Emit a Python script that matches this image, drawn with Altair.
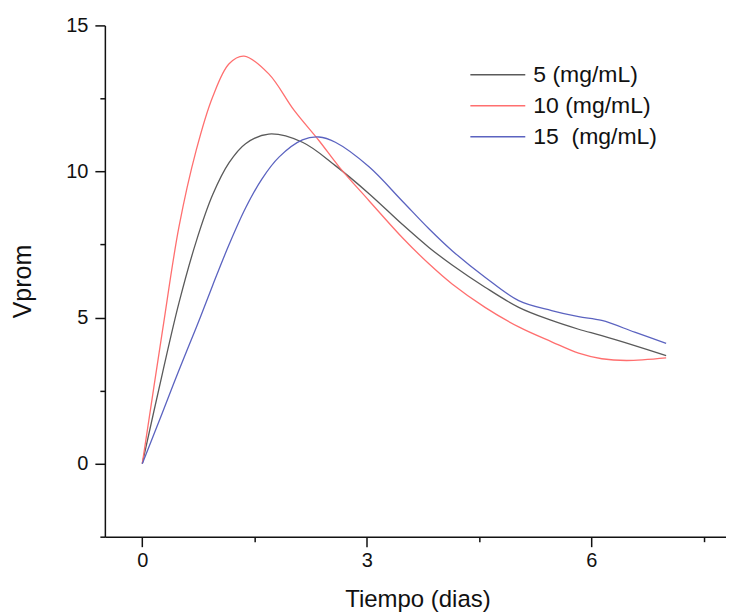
import altair as alt
import pandas as pd

# Series
t5 = [0, 0.27, 0.49, 0.72, 0.94, 1.16, 1.38, 1.69, 2.14, 2.58, 3.03, 3.47, 3.83, 4.14, 4.58, 5.03, 5.47, 5.83, 6.14, 6.58, 7.0]
v5 = [0, 3.1, 5.5, 7.6, 9.2, 10.3, 10.95, 11.28, 11.0, 10.2, 9.24, 8.2, 7.4, 6.8, 6.04, 5.35, 4.9, 4.6, 4.38, 4.04, 3.7]

t10 = [0, 0.27, 0.49, 0.72, 0.94, 1.16, 1.36, 1.69, 2.03, 2.36, 2.63, 3.03, 3.47, 3.83, 4.14, 4.58, 5.03, 5.47, 5.83, 6.14, 6.47, 7.0]
v10 = [0, 4.55, 8.1, 10.72, 12.55, 13.69, 13.95, 13.34, 12.09, 11.06, 10.16, 9.0, 7.75, 6.84, 6.15, 5.35, 4.68, 4.17, 3.78, 3.59, 3.53, 3.62]

t15 = [0, 0.27, 0.49, 0.72, 0.94, 1.16, 1.38, 1.6, 1.83, 2.14, 2.36, 2.58, 3.03, 3.47, 3.83, 4.14, 4.58, 5.03, 5.47, 5.83, 6.14, 6.58, 7.0]
v15 = [0, 1.75, 3.2, 4.65, 6.1, 7.5, 8.75, 9.75, 10.5, 11.08, 11.18, 11.0, 10.16, 9.0, 8.04, 7.29, 6.38, 5.58, 5.24, 5.03, 4.9, 4.5, 4.12]

labels = ["5 (mg/mL)", "10 (mg/mL)", "15\u00a0 (mg/mL)"]
colors = ["#5a5a5a", "#ff6f6f", "#5b63c0"]

x_major = [0, 3, 6]
x_minor = [1.5, 4.5, 7.5]
y_major = [0, 5, 10, 15]
y_minor = [-2.5, 2.5, 7.5, 12.5]

rows = []
for lab, ts, vs in zip(labels, [t5, t10, t15], [v5, v10, v15]):
    for t, v in zip(ts, vs):
        rows.append({"t": t, "v": v, "serie": lab})
df = pd.DataFrame(rows)

FONT = "Liberation Sans"
xscale = alt.Scale(domain=[-0.5, 7.8], nice=False, zero=False)
yscale = alt.Scale(domain=[-2.5, 15], nice=False, zero=False)

lines = alt.Chart(df).mark_line(interpolate="catmull-rom", strokeWidth=1.3).encode(
    x=alt.X("t:Q", scale=xscale,
            axis=alt.Axis(values=x_major, format="d", tickSize=10, orient="bottom",
                          title="Tiempo (dias)", titleX=313, titleY=70, titleFontSize=24,
                          titleBaseline="alphabetic", labelPadding=4)),
    y=alt.Y("v:Q", scale=yscale,
            axis=alt.Axis(values=y_major, format="d", tickSize=10, orient="left",
                          title="Vprom", titleX=-82, titleY=256, titleAngle=270, titleFontSize=25,
                          titleBaseline="middle", titleAlign="center", labelPadding=7)),
    color=alt.Color("serie:N", scale=alt.Scale(domain=labels, range=colors),
                    legend=alt.Legend(title=None, orient="none", legendX=382, legendY=38,
                                      symbolType="M-5,0H5", symbolSize=121,
                                      symbolStrokeWidth=1.5, labelOffset=24,
                                      labelFontSize=23, labelFont=FONT, labelColor="#111",
                                      rowPadding=7, padding=0)),
)

minor = alt.Chart(df).mark_point(opacity=0).encode(
    x=alt.X("t:Q", scale=xscale,
            axis=alt.Axis(values=x_minor, labels=False, tickSize=5, domain=False,
                          title=None, orient="bottom")),
    y=alt.Y("v:Q", scale=yscale,
            axis=alt.Axis(values=y_minor, labels=False, tickSize=5, domain=False,
                          title=None, orient="left")),
)

chart = alt.layer(lines, minor).resolve_axis(
    x="independent", y="independent"
).properties(
    width=622, height=512,
    autosize=alt.AutoSizeParams(type="none"),
    padding={"left": 97, "top": 17, "right": 0, "bottom": 76},
).configure_view(stroke=None).configure_axis(
    grid=False, domainColor="#111", domainWidth=1.5, tickColor="#111", tickWidth=1.5,
    labelFont=FONT, labelFontSize=20, labelColor="#111",
    titleFont=FONT, titleFontWeight="normal", titleColor="#111",
)

chart.save("out.html", embed_options={"renderer": "svg", "actions": False})
